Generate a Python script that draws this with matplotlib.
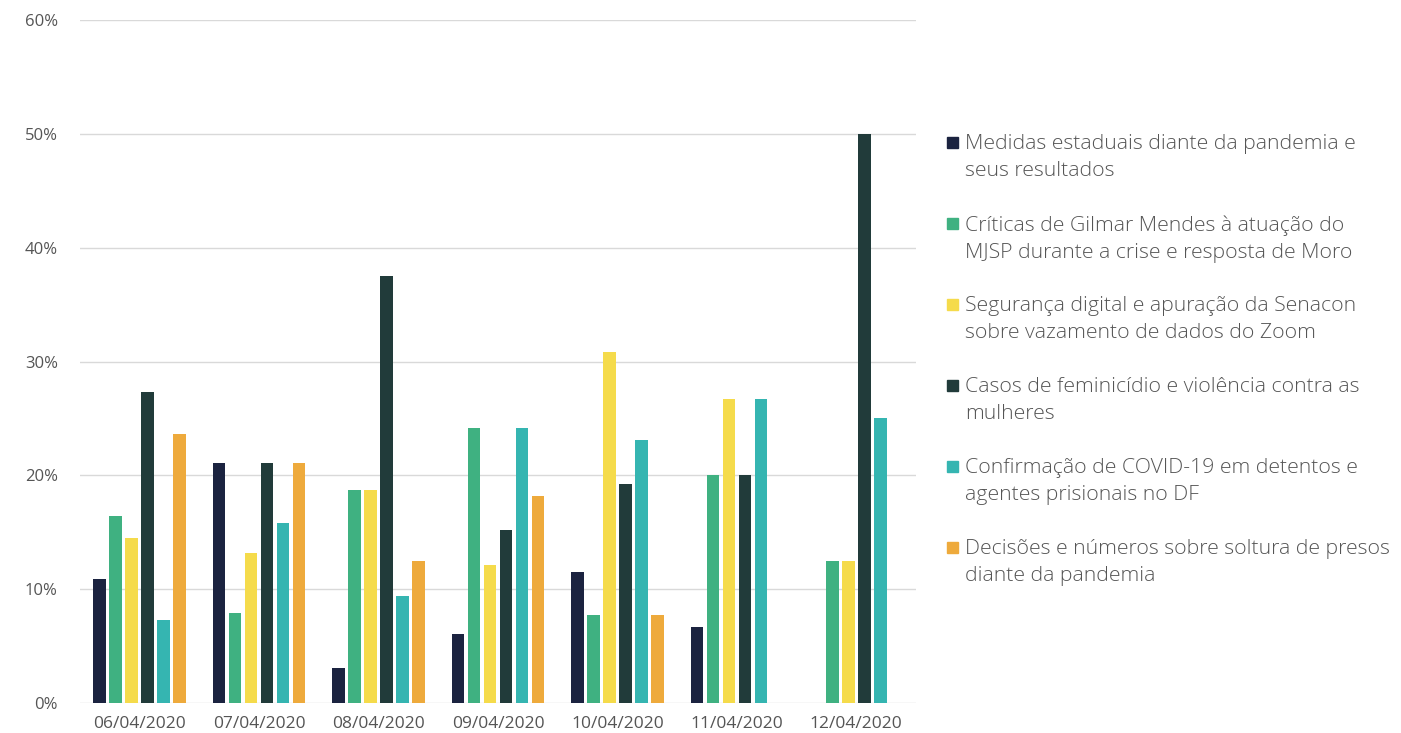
import numpy as np
import matplotlib.pyplot as plt
from matplotlib.patches import Rectangle

plt.rcParams['font.family'] = ['Open Sans', 'DejaVu Sans']

dates = ["06/04/2020", "07/04/2020", "08/04/2020", "09/04/2020",
         "10/04/2020", "11/04/2020", "12/04/2020"]

series_names = [
    "Medidas estaduais diante da pandemia e\nseus resultados",
    "Críticas de Gilmar Mendes à atuação do\nMJSP durante a crise e resposta de Moro",
    "Segurança digital e apuração da Senacon\nsobre vazamento de dados do Zoom",
    "Casos de feminicídio e violência contra as\nmulheres",
    "Confirmação de COVID-19 em detentos e\nagentes prisionais no DF",
    "Decisões e números sobre soltura de presos\ndiante da pandemia",
]

# percent of mentions per day
medidas = [10.9, 21.1, 3.1, 6.1, 11.5, 6.7, 0]
gilmar = [16.4, 7.9, 18.75, 24.2, 7.7, 20.0, 12.5]
seguranca = [14.5, 13.2, 18.75, 12.1, 30.8, 26.7, 12.5]
feminicidio = [27.3, 21.1, 37.5, 15.2, 19.2, 20.0, 50.0]
covid_df = [7.3, 15.8, 9.4, 24.2, 23.1, 26.7, 25.0]
soltura = [23.6, 21.1, 12.5, 18.2, 7.7, 0, 0]

values = [medidas, gilmar, seguranca, feminicidio, covid_df, soltura]
colors = ["#1b2340", "#3fb181", "#f5db4b", "#213b3a", "#35b5b1", "#eeaa3c"]

fig = plt.figure(figsize=(14.01, 7.33), dpi=100)
ax = fig.add_axes([80/1401, 1-703/733, 836/1401, 683/733])

x = np.arange(len(dates))
step = 0.134
for i, (vals, c) in enumerate(zip(values, colors)):
    ax.bar(x + (i - 2.5)*step, vals, width=0.105, color=c, zorder=3)

ax.set_xlim(-0.5, len(dates) - 0.5)
ax.set_ylim(0, 60)
ax.set_yticks(np.arange(0, 61, 10))
ax.set_yticklabels([f"{v}%" for v in range(0, 61, 10)])
ax.set_xticks(x)
ax.set_xticklabels(dates)
ax.tick_params(length=0, labelsize=12, colors="#555555")
ax.tick_params(axis="y", pad=16)
ax.tick_params(axis="x", pad=9, labelsize=12.5)
ax.grid(axis="y", color="#d9d9d9", linewidth=1, zorder=0)
for s in ax.spines.values():
    s.set_visible(False)

# legend drawn by hand so the swatch lines up with the first text line
y0 = 142
for i, (name, c) in enumerate(zip(series_names, colors)):
    yc = y0 + i*81
    fig.patches.append(Rectangle((947/1401, 1-(yc+6)/733), 11/1401, 11/733,
                                 transform=fig.transFigure, color=c))
    fig.text(965/1401, 1-(yc-8)/733, name, fontsize=15.3, color="#555555",
             fontweight="light", va="top", ha="left", linespacing=1.49)

fig.savefig("out.png", dpi=100)
